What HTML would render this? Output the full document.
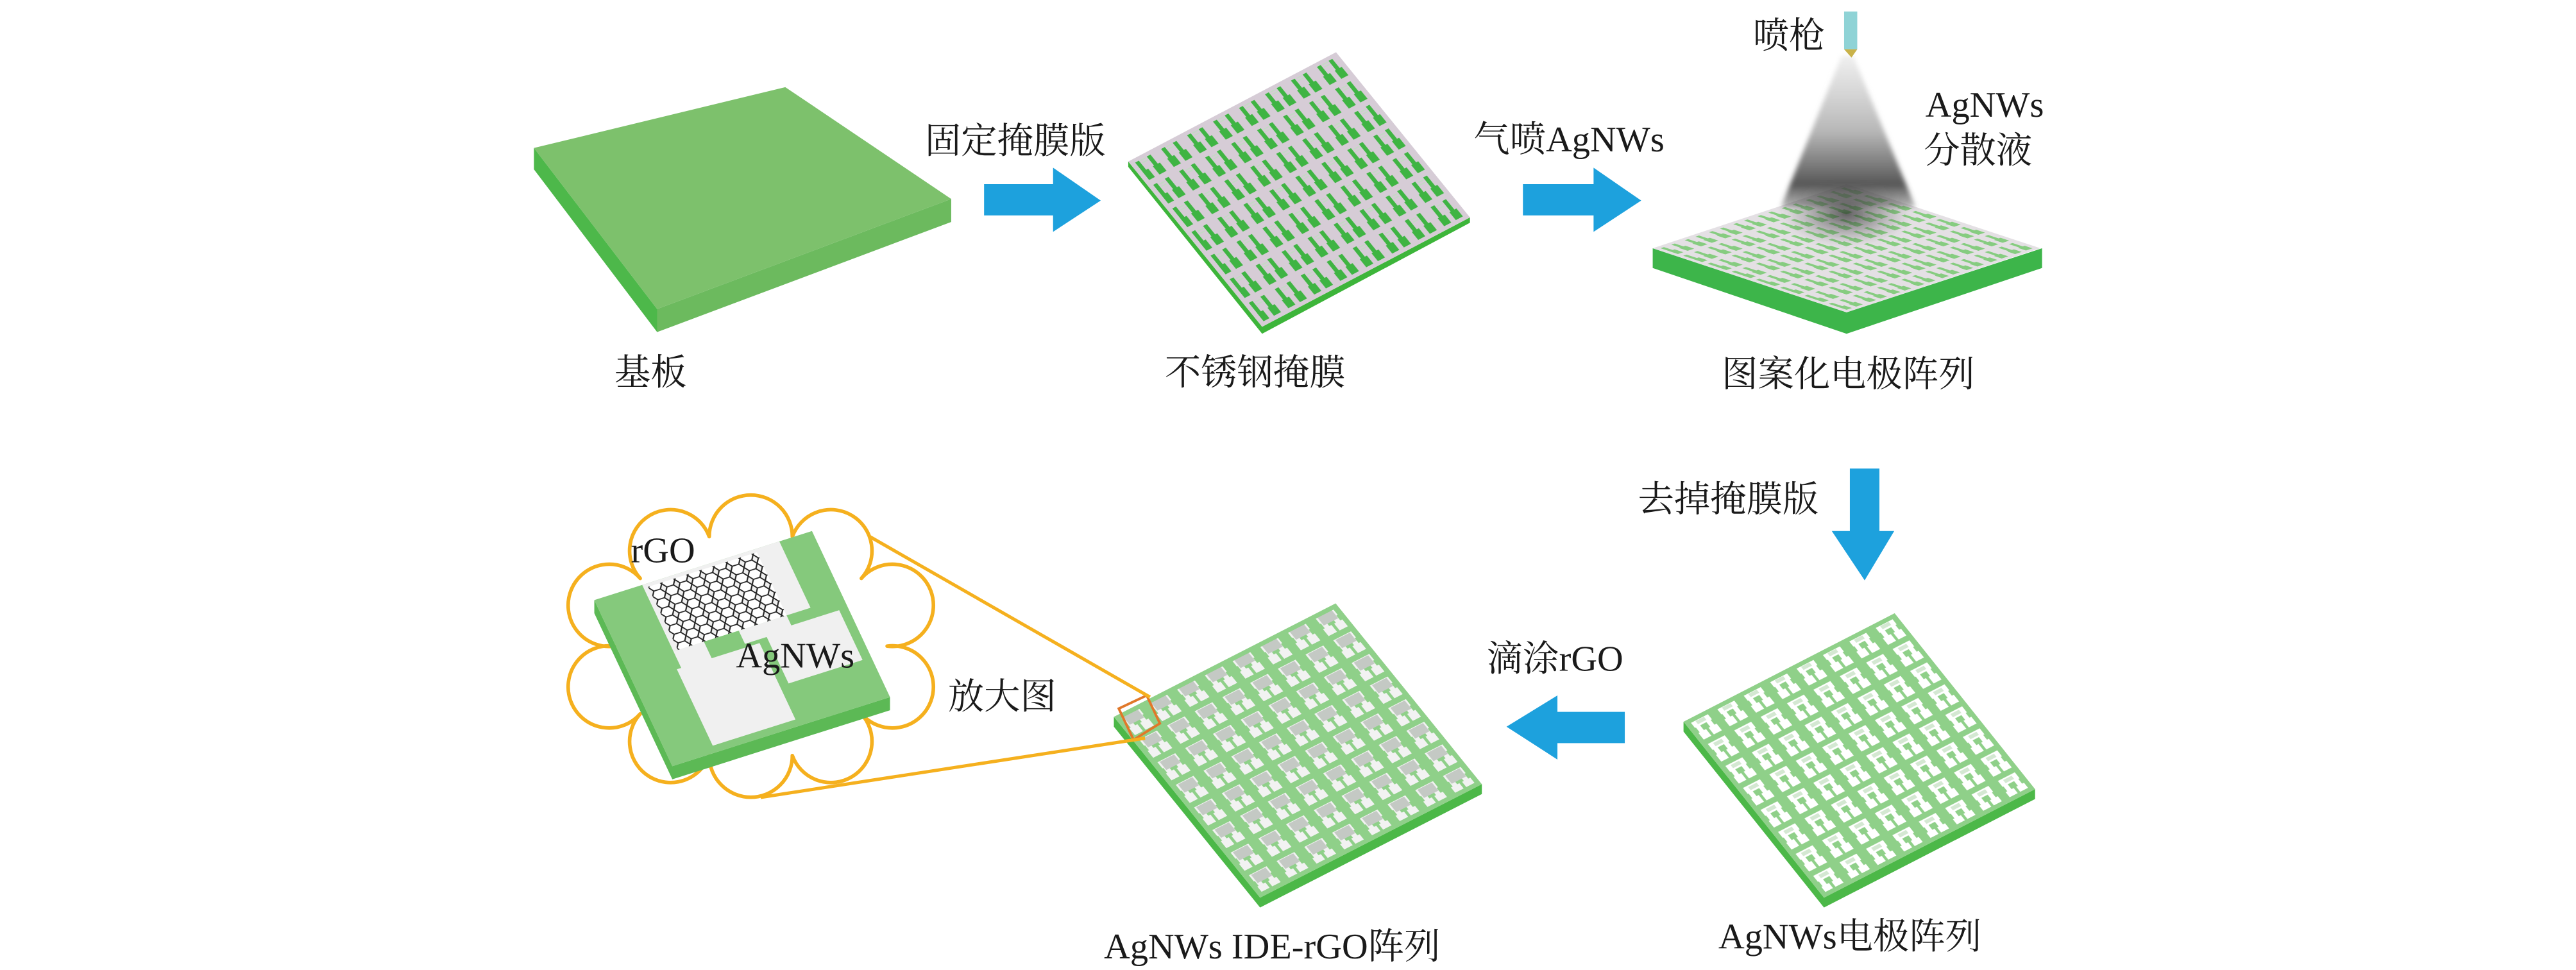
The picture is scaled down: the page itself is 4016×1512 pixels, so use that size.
<!DOCTYPE html>
<html><head><meta charset="utf-8"><style>
html,body{margin:0;padding:0;background:#fff;}
svg{display:block;}
</style></head><body>
<svg width="4016" height="1512" viewBox="0 0 1568 590" preserveAspectRatio="none" xmlns="http://www.w3.org/2000/svg" font-family="'Liberation Serif','Noto Serif CJK SC',serif" fill="#1a1a1a">
<defs>
<pattern id="pm" patternUnits="userSpaceOnUse" width="12.5" height="14.28">
 <rect x="2" y="1.2" width="1.8" height="6.5" fill="#3fb443"/><rect x="1.4" y="7.5" width="3.4" height="5" fill="#3fb443"/>
 <rect x="7.6" y="1.2" width="1.8" height="6.5" fill="#3fb443"/><rect x="7" y="7.5" width="3.4" height="5" fill="#3fb443"/>
 <rect x="4.4" y="2" width="2.6" height="0.6" fill="#c5d9c5"/><rect x="4.4" y="3.4" width="2.6" height="0.6" fill="#c5d9c5"/>
</pattern>
<pattern id="p3" patternUnits="userSpaceOnUse" width="12.5" height="12.5">
 <rect x="2" y="1.2" width="1.8" height="5.5" fill="#86cc80"/><rect x="1.4" y="6.5" width="3.4" height="4.5" fill="#86cc80"/>
 <rect x="7.6" y="1.2" width="1.8" height="5.5" fill="#86cc80"/><rect x="7" y="6.5" width="3.4" height="4.5" fill="#86cc80"/>
</pattern>
<pattern id="p5" patternUnits="userSpaceOnUse" width="12.5" height="12.5">
 <rect x="2.2" y="1.5" width="8" height="3.4" fill="#fff"/>
 <rect x="2.6" y="4.5" width="2" height="3.5" fill="#fff"/><rect x="1.8" y="7.6" width="3.8" height="3.8" fill="#fff"/>
 <rect x="7.6" y="4.5" width="2" height="3.5" fill="#fff"/><rect x="6.8" y="7.6" width="3.8" height="3.8" fill="#fff"/>
 <rect x="4.2" y="2.2" width="4" height="1.8" fill="#d4e8d2"/>
</pattern>
<pattern id="p4" patternUnits="userSpaceOnUse" width="12.5" height="12.5">
 <rect x="2.2" y="1.5" width="8" height="3.4" fill="#f2f2f2"/>
 <rect x="2.6" y="4.5" width="2" height="3.5" fill="#f2f2f2"/><rect x="1.8" y="7.6" width="3.8" height="3.8" fill="#f2f2f2"/>
 <rect x="7.6" y="4.5" width="2" height="3.5" fill="#f2f2f2"/><rect x="6.8" y="7.6" width="3.8" height="3.8" fill="#f2f2f2"/>
 <rect x="3" y="1.8" width="6.5" height="4.5" fill="#c4c9c4"/>
</pattern>
<pattern id="hex" patternUnits="userSpaceOnUse" width="6" height="5.2">
 <path d="M0,2.6 L1.5,0 L4.5,0 L6,2.6 L4.5,5.2 L1.5,5.2 Z" fill="#fff" stroke="#222" stroke-width="0.6"/>
</pattern>
<linearGradient id="cone" x1="0" y1="0" x2="0" y2="1">
 <stop offset="0" stop-color="#e8e8e8" stop-opacity="0.7"/><stop offset="0.5" stop-color="#aaa" stop-opacity="0.85"/><stop offset="0.85" stop-color="#444" stop-opacity="0.9"/><stop offset="1" stop-color="#555" stop-opacity="0.4"/>
</linearGradient>
<radialGradient id="blob"><stop offset="0" stop-color="#222" stop-opacity="0.7"/><stop offset="1" stop-color="#666" stop-opacity="0"/></radialGradient>
<filter id="bl" x="-20%" y="-20%" width="140%" height="140%"><feGaussianBlur stdDeviation="1.5"/></filter>
</defs>

<!-- substrate -->
<polygon points="325,90 400,188 400,202 325,103" fill="#4db84a"/>
<polygon points="400,188 579,121 579,135 400,202" fill="#6cba5e"/>
<polygon points="325,90 478,53 579,121 400,188" fill="#7dc16c"/>
<text x="374" y="234" font-size="22">基板</text>

<!-- arrows -->
<polygon points="599,112 641,112 641,102 670,122 641,141 641,131 599,131" fill="#1da1dd"/>
<polygon points="927,112 970,112 970,102 999,122 970,141 970,131 927,131" fill="#1da1dd"/>
<polygon points="1126,285 1144,285 1144,323 1153,323 1135,353 1115,323 1126,323" fill="#1da1dd"/>
<polygon points="989,433 948,433 948,423 917,442 948,462 948,452 989,452" fill="#1da1dd"/>

<text x="563" y="93" font-size="22">固定掩膜版</text>
<text x="897" y="92" font-size="22">气喷AgNWs</text>

<!-- mask -->
<polygon points="686.75,98.25 768.25,198.75 894.75,132.25 894.75,135.5 768.25,203 686.75,101.5" fill="#3db53a"/>
<g transform="matrix(1.265,-0.665,0.815,1.005,686.75,98.25)">
 <rect x="0" y="0" width="100" height="100" fill="#d6ccd6"/>
 <rect x="2" y="2" width="96" height="96" fill="url(#pm)"/>
</g>
<text x="709" y="234" font-size="22">不锈钢掩膜</text>

<!-- plate 3 -->
<polygon points="1006,151 1124,190 1243,151 1243,163 1124,203 1006,163" fill="#3db54a"/>
<g transform="matrix(1.18,-0.39,1.18,0.39,1006,151)">
 <rect x="0" y="0" width="100" height="100" fill="#e4e0e4"/>
 <rect x="2" y="2" width="96" height="96" fill="url(#p3)"/>
</g>
<g filter="url(#bl)">
<polygon points="1121,34 1128,34 1166,126 1084,126" fill="url(#cone)"/>
<ellipse cx="1124" cy="130" rx="40" ry="20" fill="url(#blob)"/>
</g>
<rect x="1122.5" y="7" width="8" height="23" fill="#8fd3d6"/>
<polygon points="1122.5,30 1130.5,30 1127,35" fill="#c9b24a"/>
<text x="1067" y="29" font-size="22">喷枪</text>
<text x="1172" y="71" font-size="22">AgNWs</text>
<text x="1171" y="99" font-size="22">分散液</text>
<text x="1048" y="235" font-size="22">图案化电极阵列</text>

<text x="997" y="311" font-size="22">去掉掩膜版</text>

<!-- plate 5 -->
<polygon points="1024.75,439 1110.25,546 1238.75,480 1238.75,486 1110.25,552 1024.75,445" fill="#4cb848"/>
<g transform="matrix(1.285,-0.66,0.855,1.07,1024.75,439)">
 <rect x="0" y="0" width="100" height="100" fill="#8fd089"/>
 <rect x="2" y="2" width="96" height="96" fill="url(#p5)"/>
</g>
<text x="1046" y="577" font-size="22">AgNWs电极阵列</text>

<text x="905" y="408" font-size="22">滴涂rGO</text>

<!-- plate 4 -->
<polygon points="678,436 767,546 902,477 902,483 767,552 678,442" fill="#4cb848"/>
<g transform="matrix(1.35,-0.69,0.89,1.10,678,436)">
 <rect x="0" y="0" width="100" height="100" fill="#8fd089"/>
 <rect x="2" y="2" width="96" height="96" fill="url(#p4)"/>
</g>
<polygon points="681,431 698,423 706,440 690,450" fill="none" stroke="#e0782a" stroke-width="1.5"/>
<text x="672" y="583" font-size="22">AgNWs IDE-rGO阵列</text>
<text x="577" y="431" font-size="22">放大图</text>

<!-- zoom lines -->
<line x1="527" y1="325" x2="700" y2="424" stroke="#f5b01e" stroke-width="2"/>
<line x1="463" y1="485" x2="697" y2="449" stroke="#f5b01e" stroke-width="2"/>

<!-- cloud -->
<path d="M540,393 A25,25 0 1 1 524.3,434.2 A25,25 0 1 1 482.3,459.6 A25,25 0 1 1 431.7,459.6 A25,25 0 1 1 389.7,434.2 A25,25 0 1 1 374,393 A25,25 0 1 1 389.7,351.8 A25,25 0 1 1 431.7,326.4 A25,25 0 1 1 482.3,326.4 A25,25 0 1 1 524.3,351.8 A25,25 0 1 1 540,393 Z" fill="#fff" stroke="#f5b01e" stroke-width="2.2" stroke-linejoin="round"/>

<!-- inset -->
<polygon points="361.75,365 409.25,466 541.75,424 541.75,432 409.25,474 361.75,373" fill="#5cb955"/>
<g transform="matrix(1.325,-0.42,0.475,1.01,361.75,365)">
 <rect x="0" y="0" width="100" height="100" fill="#85c97c"/>
 <rect x="22" y="0" width="63" height="40" fill="#f0f0f0"/>
 <rect x="22" y="40" width="14" height="12" fill="#f0f0f0"/>
 <rect x="20" y="50" width="38" height="46" fill="#f0f0f0"/>
 <rect x="52" y="40" width="22" height="8" fill="#f0f0f0"/>
 <rect x="62" y="46" width="34" height="30" fill="#f0f0f0"/>
 <rect x="24" y="2" width="50" height="38" fill="url(#hex)"/>
</g>
<text x="384" y="342" font-size="22">rGO</text>
<text x="448" y="406" font-size="22">AgNWs</text>
</svg>
</body></html>
